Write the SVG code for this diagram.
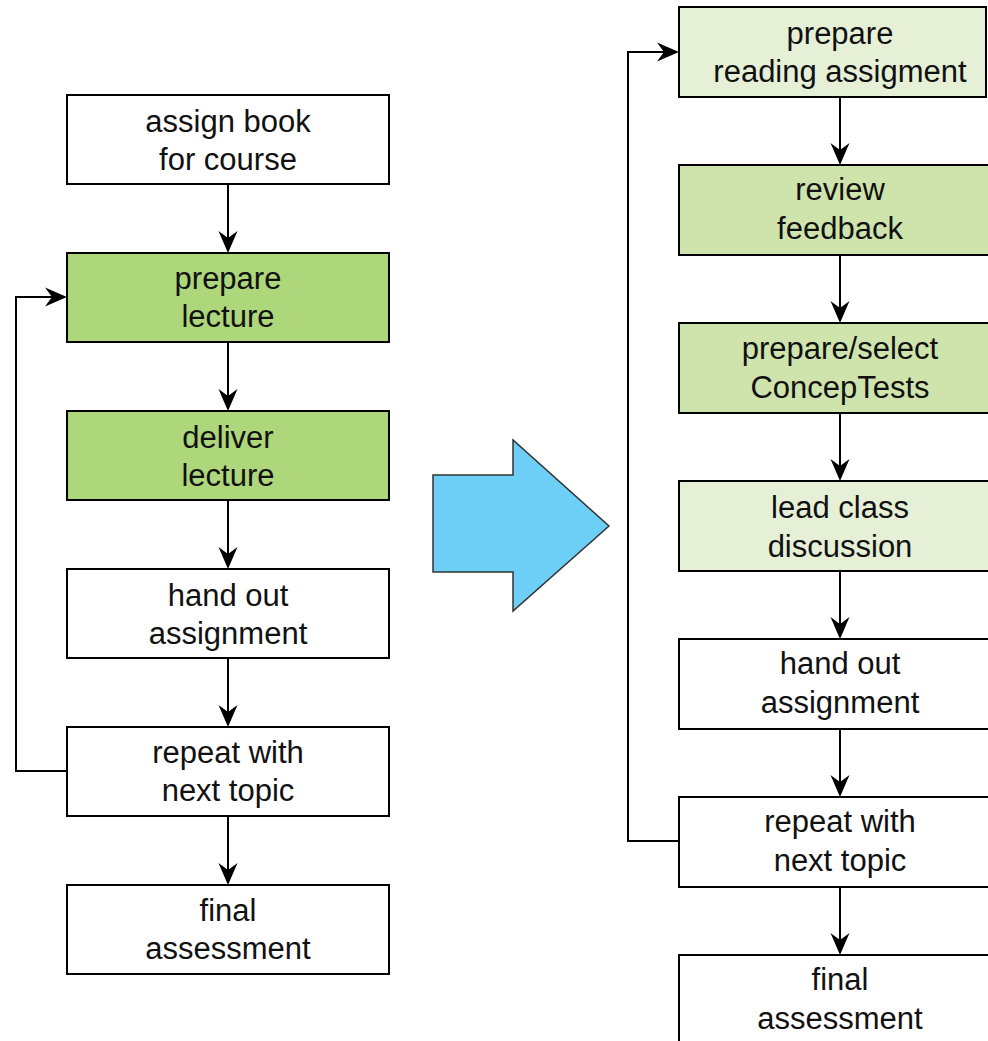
<svg xmlns="http://www.w3.org/2000/svg" width="988" height="1041" viewBox="0 0 988 1041">
<defs>
<style>
.box{stroke:#000;stroke-width:2}
.w{fill:#fff}
.g{fill:#aed67a}
.l{fill:#e5f0d7}
.m{fill:#cfe4ad}
.t{font-family:"Liberation Sans",Arial,Helvetica,sans-serif;font-size:31px;fill:#111;text-anchor:middle}
.c{fill:none;stroke:#000;stroke-width:2}
</style>
<marker id="ah" markerUnits="userSpaceOnUse" markerWidth="22" markerHeight="20" viewBox="0 0 22 20" refX="12" refY="10" orient="auto">
<path d="M22,10 L0,0.5 L7,10 L0,19.5 Z" fill="#000"/>
</marker>
</defs>
<rect width="988" height="1041" fill="#fff"/>

<g id="connectors">
<line class="c" x1="228" y1="184" x2="228" y2="243" marker-end="url(#ah)"/>
<line class="c" x1="228" y1="342" x2="228" y2="401" marker-end="url(#ah)"/>
<line class="c" x1="228" y1="500" x2="228" y2="559" marker-end="url(#ah)"/>
<line class="c" x1="228" y1="658" x2="228" y2="717" marker-end="url(#ah)"/>
<line class="c" x1="228" y1="816" x2="228" y2="875" marker-end="url(#ah)"/>
<polyline class="c" points="67,771 16,771 16,297 57,297" marker-end="url(#ah)"/>
<line class="c" x1="840" y1="97" x2="840" y2="155" marker-end="url(#ah)"/>
<line class="c" x1="840" y1="255" x2="840" y2="313" marker-end="url(#ah)"/>
<line class="c" x1="840" y1="413" x2="840" y2="471" marker-end="url(#ah)"/>
<line class="c" x1="840" y1="571" x2="840" y2="629" marker-end="url(#ah)"/>
<line class="c" x1="840" y1="729" x2="840" y2="787" marker-end="url(#ah)"/>
<line class="c" x1="840" y1="887" x2="840" y2="945" marker-end="url(#ah)"/>
<polyline class="c" points="679,841 628,841 628,52 669,52" marker-end="url(#ah)"/>
</g>

<g id="big-arrow">
<polygon points="433,475 513,475 513,440 609,526 513,611 513,572 433,572" fill="#6dcff6" stroke="#333" stroke-width="1.5"/>
</g>

<g id="L1"><rect class="box w" x="67" y="95" width="322" height="89"/><text class="t" x="228" y="132">assign book</text><text class="t" x="228" y="170">for course</text></g>
<g id="L2"><rect class="box g" x="67" y="253" width="322" height="89"/><text class="t" x="228" y="289">prepare</text><text class="t" x="228" y="327">lecture</text></g>
<g id="L3"><rect class="box g" x="67" y="411" width="322" height="89"/><text class="t" x="228" y="448">deliver</text><text class="t" x="228" y="486">lecture</text></g>
<g id="L4"><rect class="box w" x="67" y="569" width="322" height="89"/><text class="t" x="228" y="606">hand out</text><text class="t" x="228" y="644">assignment</text></g>
<g id="L5"><rect class="box w" x="67" y="727" width="322" height="89"/><text class="t" x="228" y="763">repeat with</text><text class="t" x="228" y="801">next topic</text></g>
<g id="L6"><rect class="box w" x="67" y="885" width="322" height="89"/><text class="t" x="228" y="921">final</text><text class="t" x="228" y="959">assessment</text></g>

<g id="R1"><rect class="box l" x="679" y="7" width="307" height="90"/><text class="t" x="840" y="44">prepare</text><text class="t" x="840" y="82">reading assigment</text></g>
<g id="R2"><rect class="box m" x="679" y="165" width="322" height="90"/><text class="t" x="840" y="200">review</text><text class="t" x="840" y="239">feedback</text></g>
<g id="R3"><rect class="box m" x="679" y="323" width="322" height="90"/><text class="t" x="840" y="359">prepare/select</text><text class="t" x="840" y="398">ConcepTests</text></g>
<g id="R4"><rect class="box l" x="679" y="481" width="322" height="90"/><text class="t" x="840" y="518">lead class</text><text class="t" x="840" y="557">discussion</text></g>
<g id="R5"><rect class="box w" x="679" y="639" width="322" height="90"/><text class="t" x="840" y="674">hand out</text><text class="t" x="840" y="713">assignment</text></g>
<g id="R6"><rect class="box w" x="679" y="797" width="322" height="90"/><text class="t" x="840" y="832">repeat with</text><text class="t" x="840" y="871">next topic</text></g>
<g id="R7"><rect class="box w" x="679" y="955" width="322" height="90"/><text class="t" x="840" y="990">final</text><text class="t" x="840" y="1029">assessment</text></g>
</svg>
